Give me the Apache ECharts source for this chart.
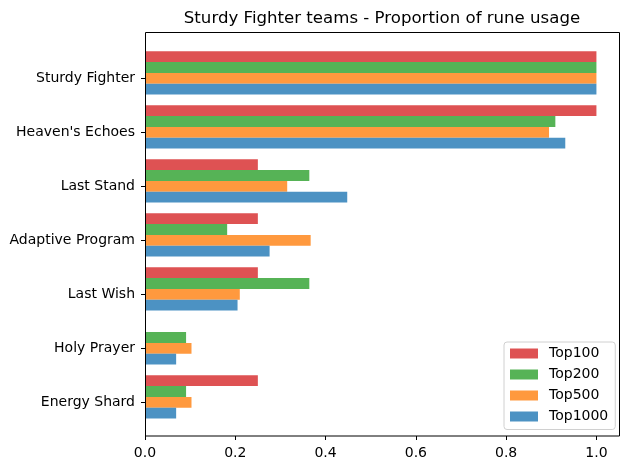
<!DOCTYPE html>
<html>
<head>
<meta charset="utf-8">
<script src="https://cdn.jsdelivr.net/npm/echarts@6/dist/echarts.min.js"></script>
<style>
  html, body { margin: 0; padding: 0; background: #fff; }
  #chart { width: 630px; height: 470px; }
</style>
</head>
<body>
<div id="chart"></div>
<script>
// rune names, top to bottom
const categories = ['Sturdy Fighter', "Heaven's Echoes", 'Last Stand', 'Adaptive Program', 'Last Wish', 'Holy Prayer', 'Energy Shard'];
const seriesNames = ['Top100', 'Top200', 'Top500', 'Top1000'];
// proportion of teams using each rune
const top100 = [1.0, 1.0, 0.25, 0.25, 0.25, 0, 0.25];
const top200 = [1.0, 0.909, 0.364, 0.182, 0.364, 0.091, 0.091];
const top500 = [1.0, 0.895, 0.315, 0.367, 0.21, 0.103, 0.103];
const top1000 = [1.0, 0.931, 0.448, 0.276, 0.205, 0.069, 0.069];
const xTicks = [0, 0.2, 0.4, 0.6, 0.8, 1.0];

const colors = ['#de5253', '#56b356', '#ff993e', '#4c92c3'];
const font = 'DejaVu Sans';

const chart = echarts.init(document.getElementById('chart'));

const values = [top100, top200, top500, top1000];
const series = values.map((d, i) => ({
  name: seriesNames[i],
  type: 'bar',
  data: d,
  barGap: '0%',
  barCategoryGap: '0%',
  itemStyle: { color: colors[i] },
  emphasis: { disabled: true }
}));
// empty slot so the group sits above the tick like the original
series.push({ name: 'pad', type: 'bar', data: [], barGap: '0%', barCategoryGap: '0%' });

chart.setOption({
  animation: false,
  textStyle: { fontFamily: font },
  title: {
    text: 'Sturdy Fighter teams - Proportion of rune usage',
    left: 382,
    top: 10,
    padding: 0,
    textAlign: 'center',
    textStyle: { fontFamily: font, fontSize: 16.6, fontWeight: 'normal', color: '#000' }
  },
  legend: {
    data: seriesNames,
    orient: 'vertical',
    left: 504,
    top: 342,
    padding: [4.5, 7, 6, 6],
    itemWidth: 28,
    itemHeight: 10,
    itemGap: 7,
    icon: 'rect',
    borderColor: '#d0d0d0',
    borderWidth: 1,
    borderRadius: 3,
    backgroundColor: 'rgba(255,255,255,0.8)',
    textStyle: { fontFamily: font, fontSize: 14, color: '#000', padding: [0, 0, 0, 6] }
  },
  grid: { left: 145, right: 11, top: 51.3, bottom: 40.7, containLabel: false },
  graphic: [{
    type: 'rect',
    shape: { x: 145.5, y: 32.5, width: 474, height: 403.5 },
    style: { fill: 'none', stroke: '#000', lineWidth: 1 },
    z: 10
  }],
  xAxis: {
    type: 'value',
    min: 0,
    max: 1.05,
    offset: 6.7,
    axisLine: { show: false },
    axisTick: { show: true, length: 4, lineStyle: { color: '#000' }, customValues: xTicks },
    axisLabel: {
      customValues: xTicks,
      fontFamily: font, fontSize: 14, color: '#000', margin: 10,
      formatter: v => v.toFixed(1)
    },
    splitLine: { show: false }
  },
  yAxis: {
    type: 'category',
    data: categories,
    inverse: true,
    axisLine: { show: false },
    axisTick: { show: true, length: 4, alignWithLabel: true, lineStyle: { color: '#000' } },
    axisLabel: { fontFamily: font, fontSize: 14, color: '#000', margin: 10 }
  },
  series: series
});
</script>
</body>
</html>
